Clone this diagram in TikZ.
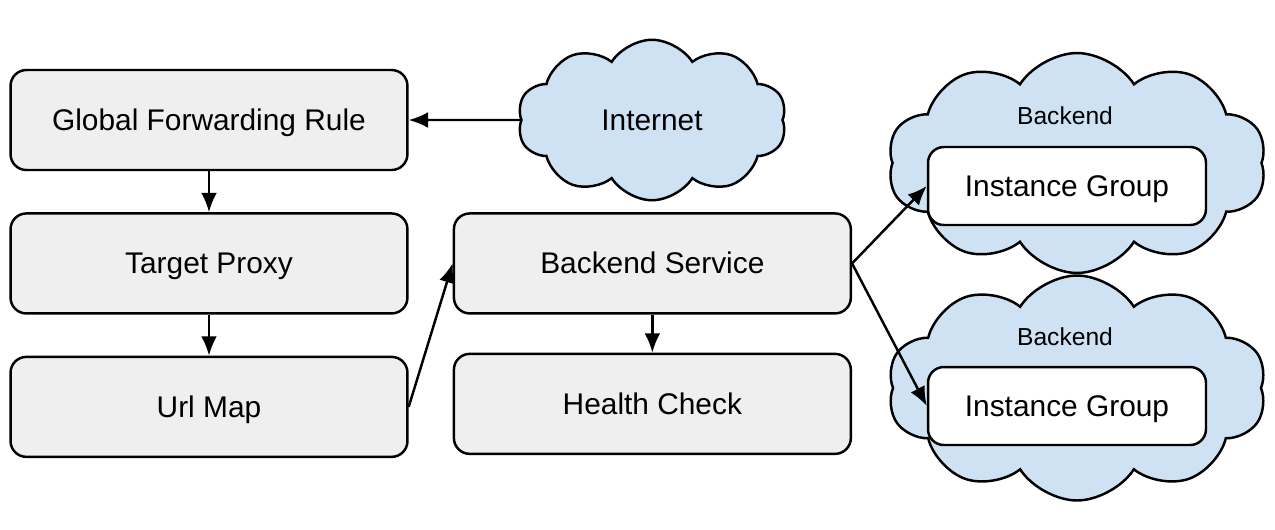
\documentclass[tikz,border=0pt]{standalone}
\usepackage{fontspec}
\setmainfont{Liberation Sans}
\usetikzlibrary{positioning}
\usetikzlibrary{shapes.symbols}
\usetikzlibrary{arrows.meta}
\definecolor{boxgray}{HTML}{EFEFEF}
\definecolor{cloudblue}{HTML}{CFE2F3}
\tikzset{box/.style={draw,line width=1.4pt,rounded corners=9pt,fill=boxgray,
             minimum width=7.94cm,minimum height=2cm,text height=13pt,text depth=1pt,
             font=\fontsize{17}{20}\selectfont},
         igbox/.style={box,fill=white,minimum width=5.56cm,minimum height=1.56cm},
         puffy/.style={cloud,draw,line width=1.4pt,fill=cloudblue,cloud puffs=10,
             cloud puff arc=115,inner sep=0pt},
         small/.style={font=\fontsize{14}{17}\selectfont},
         flow/.style={line width=1.4pt,-{Latex[length=11pt,width=9pt]}},
         }

\begin{document}
\begin{tikzpicture}[x=0.02cm,y=-0.02cm,node distance=0.82cm]
\useasboundingbox (0,0) rectangle (1275,529);
\node[box] (gfr) at (209,120) {Global Forwarding Rule};
\node[box,below=of gfr] (proxy) {Target Proxy};
\node[box,below=of proxy] (urlmap) {Url Map};
\node[box,right=0.88cm of proxy] (bsvc) {Backend Service};
\node[box,below=0.76cm of bsvc] (hcheck) {Health Check};
\node[puffy,minimum width=5.38cm,minimum height=3.12cm,
      font=\fontsize{17}{20}\selectfont] (inet) at (652,120) {Internet};
\node[puffy,minimum width=7.58cm,minimum height=4.4cm] (cloudA) at (1077,163) {};
\node[puffy,minimum width=7.58cm,minimum height=4.5cm] (cloudB) at (1077,388) {};
\node[small] (lblA) at (1065,116) {Backend};
\node[small] (lblB) at (1065,337) {Backend};
\node[igbox] (igA) at (1067,186) {Instance Group};
\node[igbox] (igB) at (1067,406) {Instance Group};
\draw[flow] (inet.west) -- (gfr.east);
\draw[flow] (gfr) -- (proxy);
\draw[flow] (proxy) -- (urlmap);
\draw[flow] (urlmap.east) -- (bsvc.west);
\draw[flow] (bsvc) -- (hcheck);
\draw[flow] (bsvc.east) -- (igA.west);
\draw[flow] (bsvc.east) -- (igB.west);
\end{tikzpicture}
\end{document}
